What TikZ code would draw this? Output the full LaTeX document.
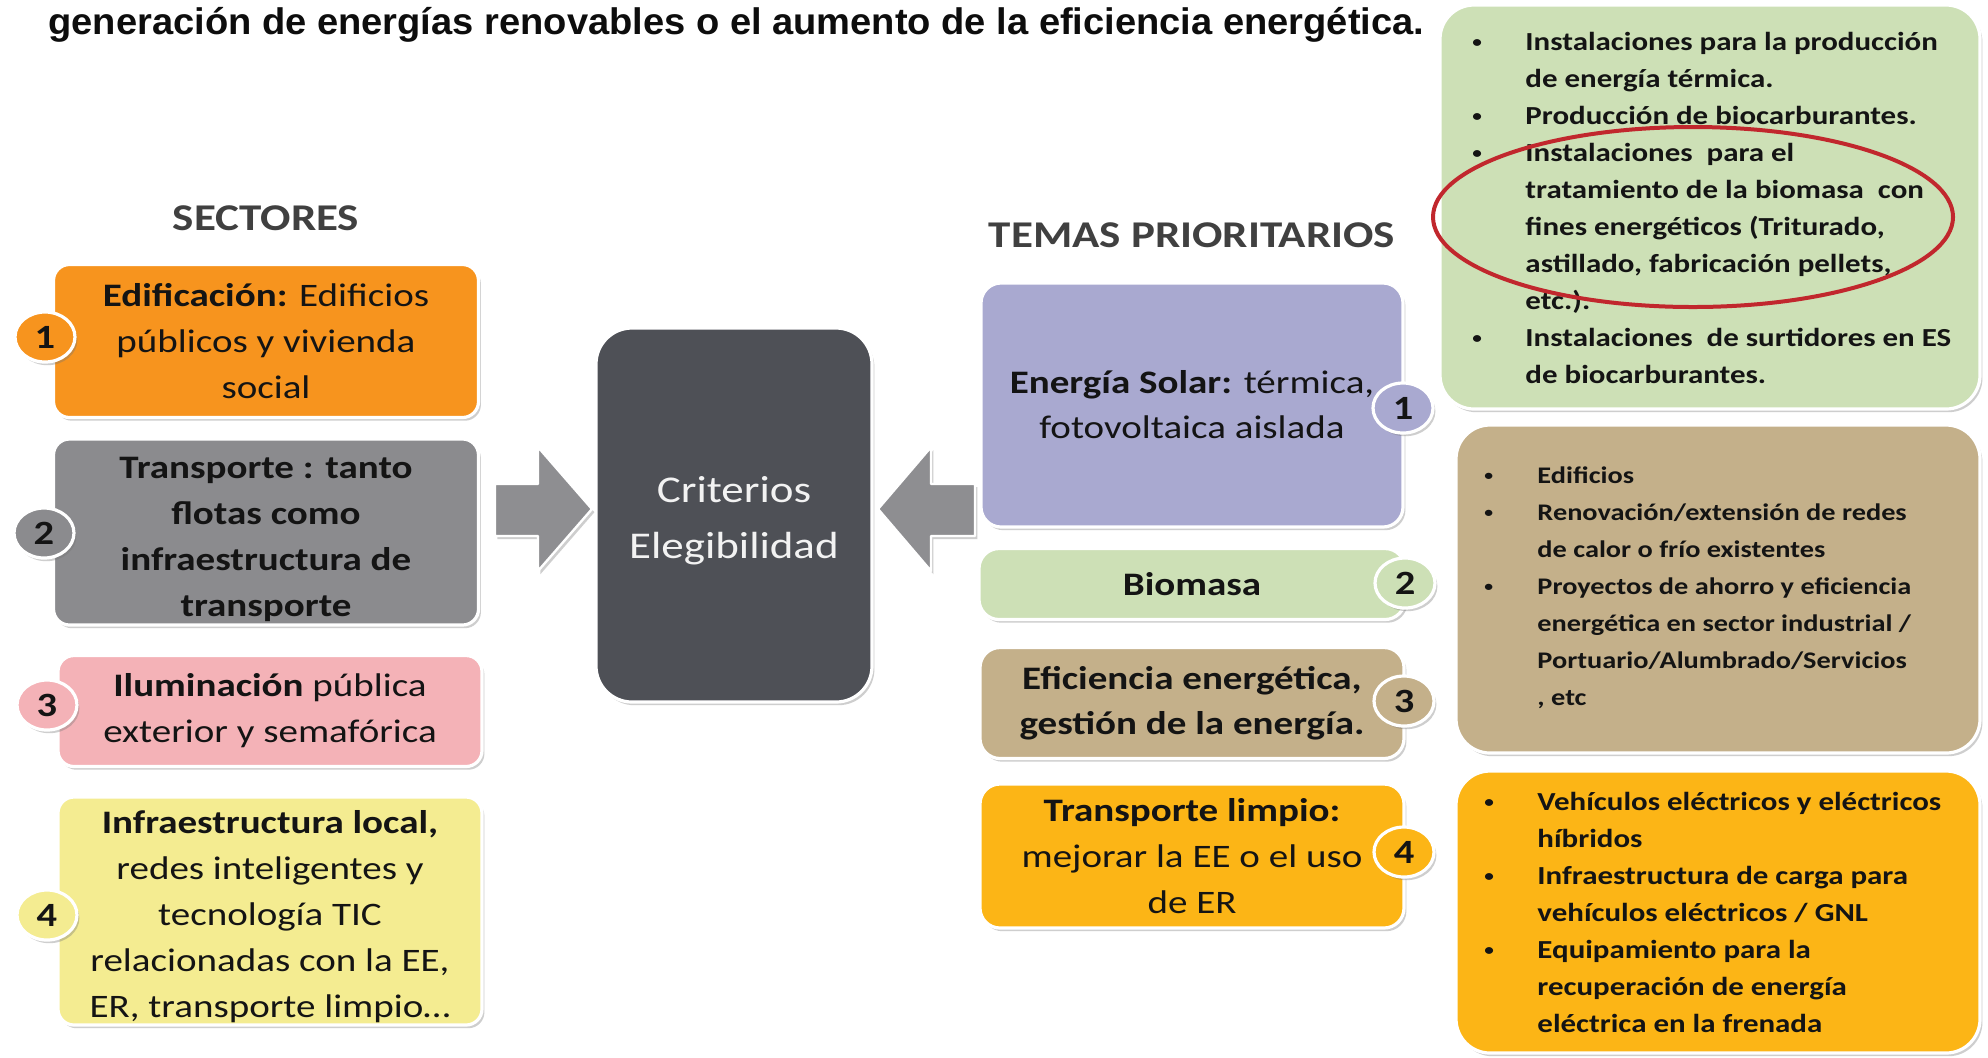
\documentclass[tikz,border=0pt]{standalone}
\usepackage{fontspec}
\setmainfont{Carlito}
\newfontfamily\titlefont{Liberation Sans}
\usetikzlibrary{shapes.geometric,shadows}
\definecolor{corange}{HTML}{F7941E}
\definecolor{cgrey}{HTML}{8B8B8E}
\definecolor{cpink}{HTML}{F4B2B7}
\definecolor{cyellow}{HTML}{F4EC91}
\definecolor{cdark}{HTML}{4E5056}
\definecolor{carrow}{HTML}{8E8E91}
\definecolor{clav}{HTML}{A9A9D0}
\definecolor{cgreen}{HTML}{CDE0B6}
\definecolor{ctan}{HTML}{C4B08A}
\definecolor{camber}{HTML}{FCB516}
\definecolor{cred}{HTML}{C1272D}
\definecolor{txt}{HTML}{141414}
\definecolor{hd}{HTML}{404040}
\newcommand\hu{0.42017pt}
\newcommand\boxfont{\fontsize{16.4}{23}\selectfont}
\newcommand\tboxfont{\fontsize{16.4}{22.5}\selectfont}
\newcommand\listfont{\fontsize{11.9}{18.5}\selectfont\bfseries}
\newcommand\biglistfont{\fontsize{13}{18.5}\selectfont\bfseries}
\newcommand\bul{\hspace{0.8pt}\raisebox{1.3pt}{\scalebox{0.62}{•}}}
\tikzset{
  shad/.style={drop shadow={shadow xshift=1.2pt, shadow yshift=-1.6pt, opacity=0.35, fill=black!55}},
  box/.style={rectangle, draw=white, line width=1.6pt, rounded corners=#1, inner sep=0pt,
    align=center, text=txt, shad},
  box/.default=8pt,
  boxtext/.style={inner sep=0pt, align=center, text=txt},
  num/.style={ellipse, draw=white, line width=1.6pt, minimum width=60*\hu, minimum height=25pt,
    inner sep=0pt, text=txt, font=\bfseries\fontsize{17}{17}\selectfont, shad},
  blockarrow/.style={fill=carrow, draw=white, line width=1.2pt, line join=round, shad},
  listnode/.style={anchor=base west, inner sep=0pt, font=\listfont, text=txt},
  heading/.style={anchor=base, inner sep=0pt, text=hd, font=\bfseries\fontsize{18.9}{20}\selectfont}
}
\begin{document}
\begin{tikzpicture}[x=0.42017pt, y=-0.5pt, xscale=1.19, every node/.append style={transform shape}]
\fill[white] (0,0) rectangle (1988,1057);
\useasboundingbox (0,0) rectangle (1988,1057);

% title
\node[anchor=base west, inner sep=0pt, text=black!95, font=\titlefont\bfseries\fontsize{18.5}{20}\selectfont] (title) at (48,34)
  {\scalebox{0.865}[1]{generación de energías renovables o el aumento de la eficiencia energética.}};

% headings
\node[heading] (sect) at (266,230) {SECTORES};
\node[heading] (temas) at (1192,247) {TEMAS PRIORITARIOS};

% left column
\node[box, fill=corange, minimum width=425*\hu, minimum height=153*0.5pt, font=\boxfont] (L1) at (266,341)
  {\textbf{Edificación:} Edificios\\ públicos y vivienda\\ social};
\node[box, fill=cgrey, minimum width=425*\hu, minimum height=186*0.5pt] (L2) at (266,532) {};
\node[boxtext, font=\boxfont\bfseries] (L2t) at (266,539)
  {Transporte : tanto\\ flotas como\\ infraestructura de\\ transporte};
\node[box, fill=cpink, minimum width=424*\hu, minimum height=111*0.5pt, font=\boxfont] (L3) at (270,711)
  {\textbf{Iluminación} pública\\ exterior y semafórica};
\node[box, fill=cyellow, minimum width=424*\hu, minimum height=228*0.5pt] (L4) at (270,911) {};
\node[boxtext, font=\boxfont] (L4t) at (270,917)
  {\textbf{Infraestructura local,}\\ redes inteligentes y\\ tecnología TIC\\ relacionadas con la EE,\\ ER, transporte limpio…};

\node[num, fill=corange] (n1) at (45,337) {1};
\node[num, fill=cgrey] (n2) at (44,533) {2};
\node[num, fill=cpink] (n3) at (47,705) {3};
\node[num, fill=cyellow] (n4) at (47,915) {4};

% centre
\node[box=18pt, fill=cdark, minimum width=276*\hu, minimum height=374*0.5pt] (C) at (734,515) {};
\node[boxtext, text=white!95!black, font=\fontsize{18.9}{28}\selectfont] (Ct) at (734,521) {Criterios\\ Elegibilidad};

% block arrows
\path[blockarrow] (495,484) -- (538,484) -- (538,447) -- (592,509) -- (538,571) -- (538,536) -- (495,536) -- cycle;
\path[blockarrow] (975,484) -- (931,484) -- (931,447) -- (878,509) -- (931,571) -- (931,536) -- (975,536) -- cycle;

% temas column
\node[box=10pt, fill=clav, minimum width=422*\hu, minimum height=244*0.5pt, font=\tboxfont] (T1) at (1192,405)
  {\textbf{Energía Solar:} térmica,\\ fotovoltaica aislada};
\node[box=10pt, fill=cgreen, minimum width=426*\hu, minimum height=71*0.5pt, font=\tboxfont\bfseries] (T2) at (1192,584)
  {Biomasa};
\node[box=10pt, fill=ctan, minimum width=424*\hu, minimum height=111*0.5pt, font=\tboxfont\bfseries] (T3) at (1192,703)
  {Eficiencia energética,\\ gestión de la energía.};
\node[box=10pt, fill=camber, minimum width=424*\hu, minimum height=144*0.5pt, font=\fontsize{16.4}{23}\selectfont] (T4) at (1192,856)
  {\textbf{Transporte limpio:}\\ mejorar la EE o el uso\\ de ER};

\node[num, fill=clav] (m1) at (1403,408) {1};
\node[num, fill=cgreen] (m2) at (1405,583) {2};
\node[num, fill=ctan] (m3) at (1404,701) {3};
\node[num, fill=camber] (m4) at (1404,852) {4};

% right detail boxes
\node[box=17pt, fill=cgreen, minimum width=540*\hu, minimum height=404*0.5pt] (R1) at (1710,207) {};
\node[box=17pt, fill=ctan, minimum width=524*\hu, minimum height=328*0.5pt] (R2) at (1718,589) {};
\node[box=17pt, fill=camber, minimum width=524*\hu, minimum height=282*0.5pt] (R3) at (1718,912) {};

\node[listnode, font=\biglistfont] (list1) at (1470,50) {\begin{tabular}[t]{@{}p{23.1pt}@{}l@{}}
\bul & Instalaciones para la producción\\
  & de energía térmica.\\
\bul & Producción de biocarburantes.\\
\bul & Instalaciones\ \ para el\\
  & tratamiento de la biomasa\ \ con\\
  & fines energéticos (Triturado,\\
  & astillado, fabricación pellets,\\
  & etc.).\\
\bul & Instalaciones\ \ de surtidores en ES\\
  & de biocarburantes.
\end{tabular}};

\node[listnode] (list2) at (1482,483) {\begin{tabular}[t]{@{}p{23.1pt}@{}l@{}}
\bul & Edificios\\
\bul & Renovación/extensión de redes\\
  & de calor o frío existentes\\
\bul & Proyectos de ahorro y eficiencia\\
  & energética en sector industrial /\\
  & Portuario/Alumbrado/Servicios\\
  & , etc
\end{tabular}};

\node[listnode, font=\biglistfont] (list3) at (1482,810) {\begin{tabular}[t]{@{}p{23.1pt}@{}l@{}}
\bul & Vehículos eléctricos y eléctricos\\
  & híbridos\\
\bul & Infraestructura de carga para\\
  & vehículos eléctricos / GNL\\
\bul & Equipamiento para la\\
  & recuperación de energía\\
  & eléctrica en la frenada
\end{tabular}};

% red highlight
\node[ellipse, draw=cred, line width=2pt, minimum width=520*\hu, minimum height=180*0.5pt, inner sep=0pt] (hl) at (1693,217) {};
\end{tikzpicture}
\end{document}
